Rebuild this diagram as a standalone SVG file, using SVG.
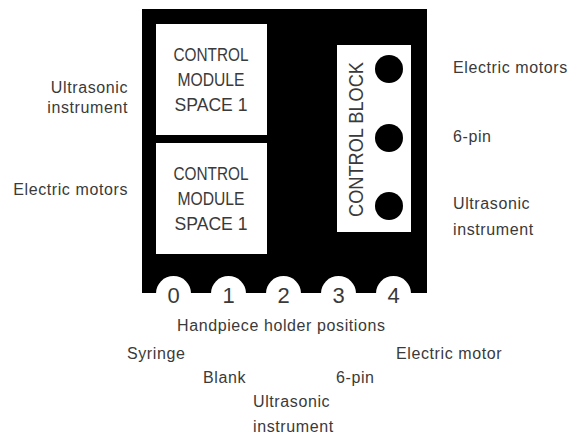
<svg xmlns="http://www.w3.org/2000/svg" width="578" height="436" viewBox="0 0 578 436">
<style>
text{font-family:"Liberation Sans",Arial,sans-serif;fill:#3a3a3a}
.lbl{font-size:16px;letter-spacing:0.6px}
.mod{font-size:18px;text-anchor:middle}
.num{font-size:22px;text-anchor:middle}
.box{fill:#fff}
.dot{fill:#000}
</style>
<rect width="578" height="436" fill="#fff"/>
<g id="frame"><rect x="142" y="9" width="285" height="284" fill="#000"/></g>
<g id="module1">
<rect class="box" x="156" y="24" width="111" height="111"/>
<text class="mod" x="211" y="61" textLength="75" lengthAdjust="spacingAndGlyphs">CONTROL</text>
<text class="mod" x="211" y="86" textLength="67" lengthAdjust="spacingAndGlyphs">MODULE</text>
<text class="mod" x="211" y="111" textLength="73" lengthAdjust="spacingAndGlyphs">SPACE 1</text>
</g>
<g id="module2">
<rect class="box" x="156" y="143" width="111" height="111"/>
<text class="mod" x="211" y="180" textLength="75" lengthAdjust="spacingAndGlyphs">CONTROL</text>
<text class="mod" x="211" y="205" textLength="67" lengthAdjust="spacingAndGlyphs">MODULE</text>
<text class="mod" x="211" y="230" textLength="73" lengthAdjust="spacingAndGlyphs">SPACE 1</text>
</g>
<g id="controlblock">
<rect class="box" x="337" y="45" width="74" height="187"/>
<text transform="translate(363 139.5) rotate(-90)" style="font-size:20px;text-anchor:middle" textLength="155" lengthAdjust="spacingAndGlyphs">CONTROL BLOCK</text>
<circle class="dot" cx="389" cy="69" r="14"/>
<circle class="dot" cx="389" cy="138" r="14"/>
<circle class="dot" cx="389" cy="206" r="14"/>
</g>
<g id="positions">
<circle class="box" cx="173.5" cy="293.5" r="17.5"/>
<circle class="box" cx="228.5" cy="293.5" r="17.5"/>
<circle class="box" cx="283.5" cy="293.5" r="17.5"/>
<circle class="box" cx="338.5" cy="293.5" r="17.5"/>
<circle class="box" cx="393.5" cy="293.5" r="17.5"/>
<rect class="box" x="150" y="293" width="270" height="20"/>
<text class="num" x="173.5" y="303">0</text>
<text class="num" x="228.5" y="303">1</text>
<text class="num" x="283.5" y="303">2</text>
<text class="num" x="338.5" y="303">3</text>
<text class="num" x="393.5" y="303">4</text>
</g>
<g id="labels-left">
<text class="lbl" x="128" y="93" text-anchor="end">Ultrasonic</text>
<text class="lbl" x="128" y="113" text-anchor="end">instrument</text>
<text class="lbl" x="128" y="195" text-anchor="end">Electric motors</text>
</g>
<g id="labels-right">
<text class="lbl" x="453" y="73">Electric motors</text>
<text class="lbl" x="453" y="142">6-pin</text>
<text class="lbl" x="453" y="209">Ultrasonic</text>
<text class="lbl" x="453" y="235">instrument</text>
</g>
<g id="labels-bottom">
<text class="lbl" x="177" y="331">Handpiece holder positions</text>
<text class="lbl" x="127" y="359">Syringe</text>
<text class="lbl" x="396" y="359">Electric motor</text>
<text class="lbl" x="203" y="383">Blank</text>
<text class="lbl" x="336" y="383">6-pin</text>
<text class="lbl" x="253" y="407">Ultrasonic</text>
<text class="lbl" x="253" y="432">instrument</text>
</g>
</svg>
